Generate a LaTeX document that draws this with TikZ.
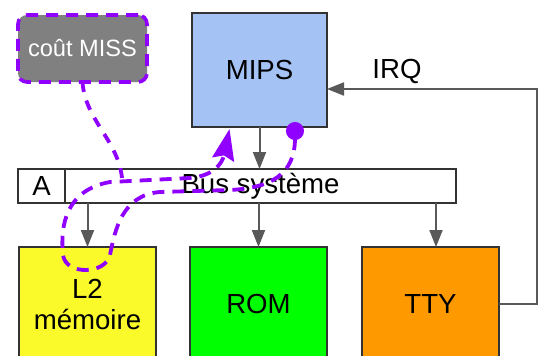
\documentclass[tikz,border=0pt]{standalone}
\usepackage{fontspec}
\setmainfont{Liberation Sans}
\usetikzlibrary{arrows.meta,calc}
\definecolor{purp}{HTML}{9000FF}
\definecolor{mipsblue}{HTML}{A4C2F4}
\definecolor{lyellow}{HTML}{FAFA2A}
\definecolor{lgreen}{HTML}{00FF00}
\definecolor{lorange}{HTML}{FF9900}
\definecolor{missgray}{HTML}{808080}
\definecolor{agray}{HTML}{595959}
\begin{document}
\begin{tikzpicture}[x=1pt,y=-1pt,
  box/.style={draw=black!80,line width=1.1pt,inner sep=0pt,outer sep=0pt,
    font=\fontsize{27.6}{31}\selectfont,align=center},
  bigbox/.style={box,minimum width=137pt,minimum height=114pt},
  garrow/.style={draw=agray,line width=2pt,-{Triangle[length=17pt,width=13pt]}},
  ppath/.style={draw=purp,line width=3.8pt,dash pattern=on 12pt off 8pt},
  lbl/.style={font=\fontsize{27.6}{31}\selectfont,inner sep=0pt}]
\useasboundingbox (0,0) rectangle (542,356);
\clip (0,0) rectangle (542,356);
% boxes
\node[box,fill=mipsblue,minimum width=135pt,minimum height=114pt] (mips) at (259.5,70) {MIPS};
\node[box,fill=missgray,text=white,draw=purp,line width=3.6pt,dash pattern=on 12pt off 8pt,
  rounded corners=9pt,minimum width=129pt,minimum height=67pt,
  font=\fontsize{23.6}{28}\selectfont] (miss) at (82.5,48.5) {coût MISS};
\node[box,minimum width=47pt,minimum height=34pt] (acell) at (41.5,186) {A};
\node[box,minimum width=391pt,minimum height=34pt] (bus) at (260.5,186) {Bus système};
\node[bigbox,fill=lyellow] (l2) at (87.5,304) {L2\\mémoire};
\node[bigbox,fill=lgreen] (rom) at (258.5,304) {ROM};
\node[bigbox,fill=lorange] (tty) at (430.5,304) {TTY};
\node[lbl] (irq) at (397,71) {IRQ};
% gray connectors
\draw[garrow] (mips.south) -- (mips.south |- bus.north);
\draw[garrow] (l2.north |- bus.south) -- (l2.north);
\draw[garrow] (rom.north |- bus.south) -- (rom.north);
\coordinate (ttyin) at ([xshift=5.5pt]tty.north);
\draw[garrow] (ttyin |- bus.south) -- (ttyin);
\coordinate (irqc) at (537,89);
\draw[garrow] (tty.east) -| (irqc) -- (irqc -| mips.east);
% purple paths
\coordinate (pstart) at ([xshift=35.5pt,yshift=5pt]mips.south);
\coordinate (pend) at ([xshift=-30pt,yshift=-2pt]mips.south);
\coordinate (misse) at (122,178);
\draw[ppath,{Circle[length=18pt]}-{Stealth[length=31pt,width=22pt,inset=4pt]}]
  (pstart) .. controls (295,175) and (270,188) .. (230,190) -- (160,192)
  .. controls (122,195) and (115,230) .. (110,255)
  .. controls (106,274) and (66,276) .. (63,255)
  .. controls (60,225) and (66,190) .. (110,182) -- (190,178)
  .. controls (212,176) and (222,165) .. (pend);
\draw[ppath,dash pattern=on 10pt off 9pt] (miss.south) .. controls (85,120) and (118,140) .. (misse);
\end{tikzpicture}
\end{document}
